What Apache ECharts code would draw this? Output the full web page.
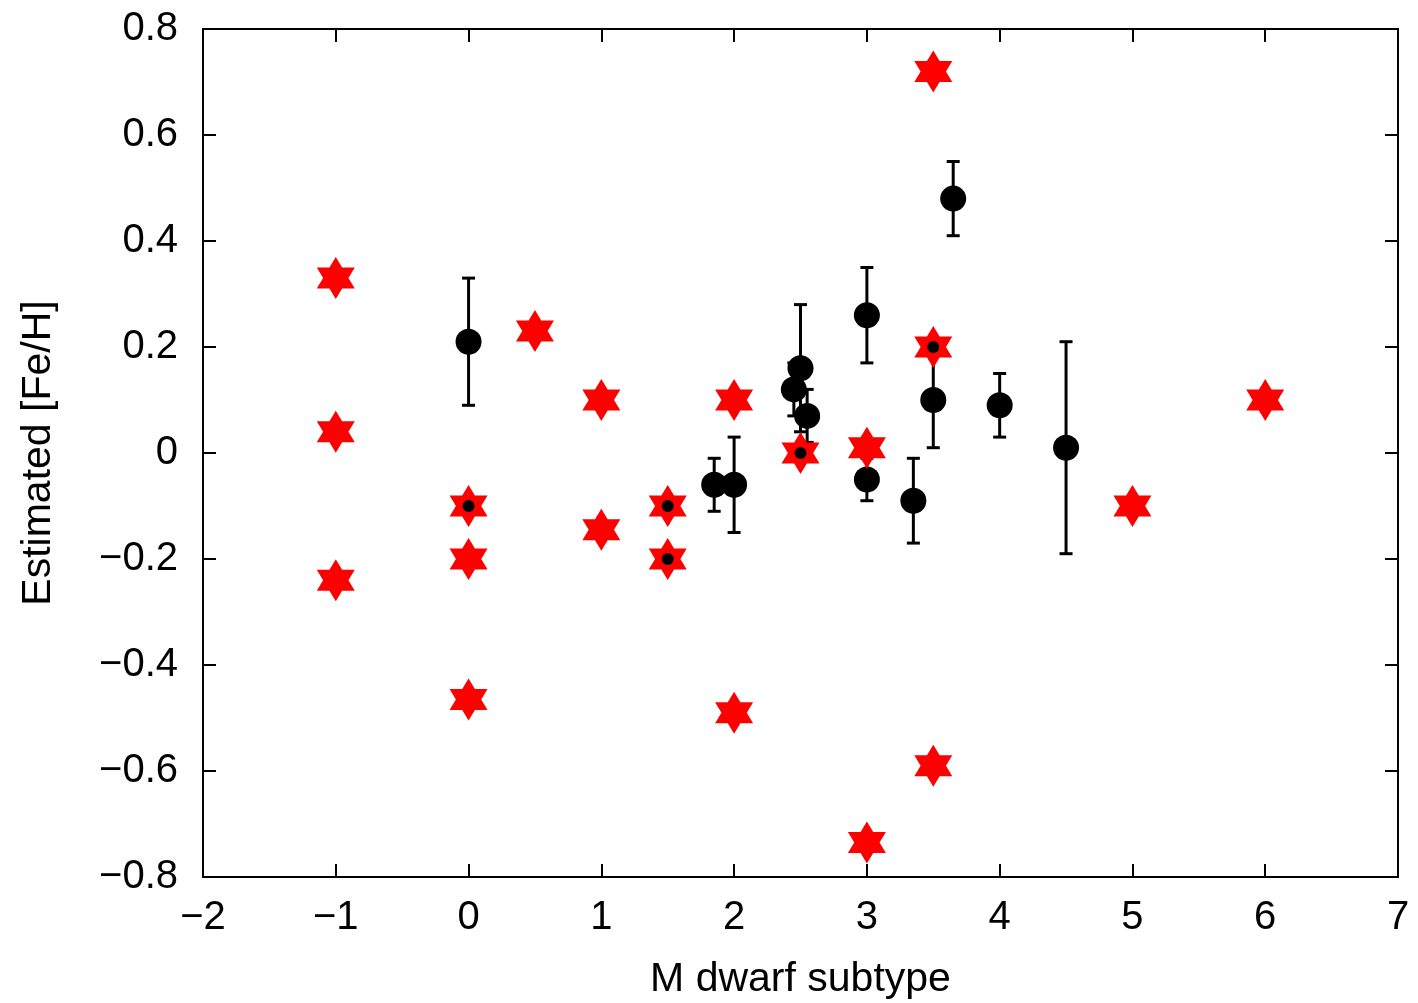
<!DOCTYPE html>
<html>
<head>
<meta charset="utf-8">
<script src="https://cdn.jsdelivr.net/npm/echarts@6/dist/echarts.min.js"></script>
<style>
html,body{margin:0;padding:0;background:#fff;}
#chart{width:1418px;height:1003px;}
</style>
</head>
<body>
<div id="chart"></div>
<script>
// Black points with error bars: [subtype, [Fe/H], error]
const errX = [0, 1.85, 2, 2.45, 2.5, 2.55, 3, 3, 3.35, 3.5, 3.65, 4, 4.5];
const errY = [0.21, -0.06, -0.06, 0.12, 0.16, 0.07, 0.26, -0.05, -0.09, 0.10, 0.48, 0.09, 0.01];
const errE = [0.12, 0.05, 0.09, 0.05, 0.12, 0.05, 0.09, 0.04, 0.08, 0.09, 0.07, 0.06, 0.20];

// Red stars
const starX = [-1, -1, -1, 0, 0, 0, 0.5, 1, 1, 1.5, 1.5, 2, 2, 2.5, 3, 3, 3.5, 3.5, 3.5, 5, 6];
const starY = [0.33, 0.04, -0.24, -0.10, -0.20, -0.465, 0.23, 0.10, -0.145, -0.10, -0.20, 0.10, -0.49, 0.0, 0.01, -0.735, 0.72, 0.20, -0.59, -0.10, 0.10];

// Small black dots (inside stars)
const dotX = [0, 1.5, 1.5, 2.5, 3.5];
const dotY = [-0.10, -0.10, -0.20, 0.0, 0.20];

const xTicks = [-2, -1, 0, 1, 2, 3, 4, 5, 6, 7];
const yTicks = [-0.8, -0.6, -0.4, -0.2, 0, 0.2, 0.4, 0.6, 0.8];

const errData = errX.map((x, i) => [x, errY[i], errE[i]]);
const ptData = errX.map((x, i) => [x, errY[i]]);
const starData = starX.map((x, i) => [x, starY[i]]);
const dotData = dotX.map((x, i) => [x, dotY[i]]);

const FONT = '"Liberation Sans", Arial, Helvetica, sans-serif';
const fmt = v => {
  let s = (Math.abs(v) < 1e-9) ? '0' : String(Math.round(v * 10) / 10);
  return s.replace('-', '\u2212');
};

const star = 'path://M0,-1 L0.2887,-0.5 L0.866,-0.5 L0.5774,0 L0.866,0.5 L0.2887,0.5 L0,1 L-0.2887,0.5 L-0.866,0.5 L-0.5774,0 L-0.866,-0.5 L-0.2887,-0.5 Z';

const axisCommon = {
  axisLine: {show: true, onZero: false, lineStyle: {color: '#000', width: 2}},
  axisTick: {show: true, inside: true, length: 13, lineStyle: {color: '#000', width: 2}},
  splitLine: {show: false}
};

const chart = echarts.init(document.getElementById('chart'), null, {renderer: 'canvas'});
chart.setOption({
  backgroundColor: '#fff',
  animation: false,
  grid: {left: 203, right: 20, top: 29, bottom: 126, show: true, borderColor: '#000', borderWidth: 2,
         containLabel: false, outerBoundsMode: 'none'},
  xAxis: [{
    type: 'value', min: -2, max: 7, interval: 1,
    name: 'M dwarf subtype', nameLocation: 'middle', nameGap: 82,
    nameTextStyle: {fontFamily: FONT, fontSize: 41, color: '#000'},
    axisLabel: {fontFamily: FONT, fontSize: 40, color: '#000', margin: 21, formatter: fmt},
    ...axisCommon
  }, {
    type: 'value', min: -2, max: 7, interval: 1, position: 'top',
    axisLabel: {show: false}, ...axisCommon
  }],
  yAxis: [{
    type: 'value', min: -0.8, max: 0.8, interval: 0.2,
    name: 'Estimated [Fe/H]', nameLocation: 'middle', nameGap: 144, nameRotate: 90,
    nameTextStyle: {fontFamily: FONT, fontSize: 41, color: '#000'},
    axisLabel: {fontFamily: FONT, fontSize: 40, color: '#000', margin: 25, formatter: fmt},
    ...axisCommon
  }, {
    type: 'value', min: -0.8, max: 0.8, interval: 0.2, position: 'right',
    axisLabel: {show: false}, ...axisCommon
  }],
  series: [
    {
      type: 'custom',
      data: errData,
      z: 2,
      renderItem: function (params, api) {
        const x = api.value(0), y = api.value(1), e = api.value(2);
        const top = api.coord([x, y + e]);
        const bot = api.coord([x, y - e]);
        const hw = 6.5;
        const style = {stroke: '#000', lineWidth: 3};
        return {
          type: 'group',
          children: [
            {type: 'line', shape: {x1: top[0], y1: top[1], x2: bot[0], y2: bot[1]}, style},
            {type: 'line', shape: {x1: top[0] - hw, y1: top[1], x2: top[0] + hw, y2: top[1]}, style},
            {type: 'line', shape: {x1: bot[0] - hw, y1: bot[1], x2: bot[0] + hw, y2: bot[1]}, style}
          ]
        };
      }
    },
    {
      type: 'scatter', data: ptData, symbol: 'circle', symbolSize: 26, z: 3,
      itemStyle: {color: '#000', opacity: 1}
    },
    {
      type: 'scatter', data: starData, symbol: star, symbolSize: [38, 42], z: 4,
      itemStyle: {color: '#ff0000', opacity: 1}
    },
    {
      type: 'scatter', data: dotData, symbol: 'circle', symbolSize: 12, z: 5,
      itemStyle: {color: '#000', opacity: 1}
    }
  ]
});
</script>
</body>
</html>
